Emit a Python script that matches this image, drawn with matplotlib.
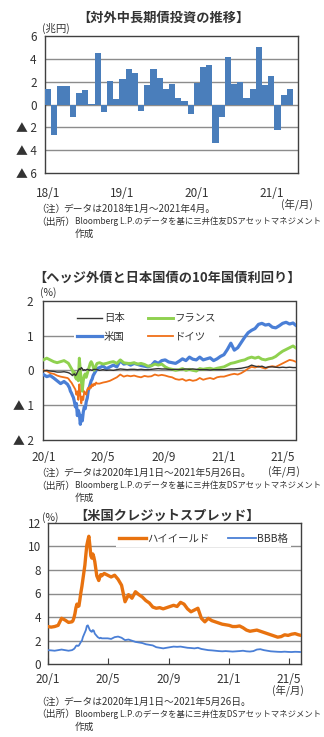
import matplotlib
matplotlib.use('Agg')
import matplotlib.pyplot as plt
import pandas as pd
import numpy as np

plt.rcParams['font.family'] = ['Noto Sans CJK JP', 'DejaVu Sans']

# ---------------- data: chart 1 (monthly, 2018/1 - 2021/4, 兆円) ----------------
bar_values = [1.4, -2.7, 1.6, 1.6, -1.1, 1.0, 1.3, 0.05, 4.5, -0.7,
              2.1, 0.5, 2.2, 3.1, 2.8, -0.55, 1.7, 3.1, 2.3, 1.4,
              1.8, 0.6, 0.3, -0.85, 1.9, 3.3, 3.5, -3.4, -1.1, 4.2,
              1.8, 2.0, 0.6, 1.4, 5.0, 1.7, 2.5, -2.2, 0.8, 1.4]
bar_tick_labels = ['18/1', '19/1', '20/1', '21/1']
bar_tick_idx = [0, 12, 24, 36]
bar_ytick_labels = ['▲ 6', '▲ 4', '▲ 2', '0', '2', '4', '6']

# ---------------- dates for charts 2 & 3 ----------------
dates_early = pd.to_datetime(['2020-01-01', '2020-01-08', '2020-01-15', '2020-01-22',
                              '2020-01-29', '2020-02-05', '2020-02-12', '2020-02-19'])
dates_dense = pd.date_range('2020-02-21', '2020-04-19', freq='2D')
dates_weekly = pd.date_range('2020-04-24', '2021-05-21', freq='7D')
dates = dates_early.append(dates_dense).append(dates_weekly).append(pd.to_datetime(['2021-05-26']))

# ---------------- chart 2: hedged 10y yields (%) ----------------
japan = ([-0.02, 0.00, -0.02, -0.03, -0.05, -0.05, -0.04, -0.06] +
         [-0.07, -0.08, -0.10, -0.12, -0.15, -0.12, -0.10, -0.15, -0.12, -0.05,
          0.00, 0.05, 0.02, 0.08, 0.05, 0.00, 0.02, 0.00, 0.02, 0.03,
          0.02, 0.00, 0.02, 0.01, 0.00, 0.02, 0.03, 0.02, 0.03, 0.02] +
         [0.00, 0.02, 0.00, 0.01, 0.00, 0.02, 0.04, 0.03, 0.02, 0.03,
          0.03, 0.02, 0.03, 0.02, 0.02, 0.03, 0.04, 0.05, 0.04, 0.04,
          0.03, 0.02, 0.03, 0.02, 0.03, 0.04, 0.03, 0.04, 0.03, 0.02,
          0.02, 0.02, 0.01, 0.02, 0.02, 0.02] +
         [0.02, 0.03, 0.04, 0.04, 0.05, 0.06, 0.08, 0.10, 0.15, 0.12, 0.10,
          0.12, 0.08, 0.10, 0.10, 0.09, 0.08, 0.09, 0.08, 0.09, 0.08, 0.08])
usa = ([-0.12, -0.18, -0.15, -0.22, -0.30, -0.38, -0.32, -0.40] +
       [-0.45, -0.50, -0.60, -0.65, -0.72, -0.78, -0.90, -1.05, -0.95, -1.30,
        -1.15, -1.25, -1.55, -1.30, -1.45, -1.20, -1.05, -1.10, -0.90, -0.80,
        -0.60, -0.50, -0.40, -0.30, -0.25, -0.15, -0.10, -0.05, 0.00, 0.05] +
       [0.08, 0.12, 0.05, 0.10, 0.15, 0.10, 0.28, 0.18, 0.20, 0.15,
        0.20, 0.17, 0.14, 0.12, 0.10, 0.14, 0.25, 0.20, 0.28, 0.30,
        0.24, 0.22, 0.20, 0.26, 0.33, 0.28, 0.38, 0.32, 0.30, 0.38,
        0.30, 0.33, 0.36, 0.28, 0.33, 0.40] +
       [0.45, 0.60, 0.78, 0.58, 0.65, 0.80, 0.95, 1.08, 1.15, 1.20, 1.32,
        1.35, 1.30, 1.32, 1.24, 1.22, 1.28, 1.35, 1.38, 1.33, 1.36, 1.30])
france = ([0.30, 0.35, 0.30, 0.25, 0.22, 0.25, 0.28, 0.22] +
          [0.20, 0.15, 0.10, 0.05, 0.00, -0.10, -0.05, -0.20, -0.25, -0.10,
           -0.30, 0.35, 0.00, -0.30, -0.60, -0.30, -0.15, -0.10, -0.20, -0.10,
           0.00, 0.10, 0.20, 0.25, 0.20, 0.10, 0.00, 0.05, 0.15, 0.20] +
          [0.22, 0.18, 0.20, 0.23, 0.25, 0.20, 0.30, 0.22, 0.20, 0.20,
           0.22, 0.18, 0.20, 0.17, 0.12, 0.13, 0.18, 0.15, 0.18, 0.10,
           0.05, 0.03, 0.00, 0.02, 0.05, 0.00, 0.03, 0.00, -0.02, 0.05,
           0.03, 0.05, 0.06, 0.03, 0.06, 0.08] +
          [0.10, 0.15, 0.20, 0.22, 0.25, 0.28, 0.30, 0.35, 0.38, 0.35, 0.38,
           0.32, 0.30, 0.33, 0.35, 0.40, 0.48, 0.55, 0.60, 0.65, 0.70, 0.65])
germany = ([0.00, -0.02, -0.08, -0.10, -0.15, -0.18, -0.20, -0.22] +
           [-0.24, -0.28, -0.32, -0.35, -0.40, -0.45, -0.50, -0.55, -0.70, -0.60,
            -0.85, -0.40, -0.70, -0.95, -0.75, -0.85, -0.60, -0.65, -0.70, -0.55,
            -0.50, -0.55, -0.45, -0.50, -0.40, -0.45, -0.38, -0.42, -0.35, -0.38] +
           [-0.38, -0.35, -0.33, -0.30, -0.25, -0.20, -0.12, -0.18, -0.15, -0.17,
            -0.15, -0.18, -0.20, -0.16, -0.18, -0.17, -0.12, -0.15, -0.13, -0.15,
            -0.18, -0.20, -0.25, -0.27, -0.25, -0.30, -0.27, -0.30, -0.28, -0.22,
            -0.27, -0.24, -0.22, -0.25, -0.20, -0.18] +
           [-0.18, -0.15, -0.12, -0.10, -0.12, -0.08, -0.02, 0.05, 0.10, 0.08, 0.12,
            0.08, 0.05, 0.10, 0.12, 0.10, 0.15, 0.20, 0.25, 0.30, 0.28, 0.25])

# ---------------- chart 3: US credit spreads (%) ----------------
high_yield = ([3.20, 3.15, 3.20, 3.30, 3.90, 3.75, 3.55, 3.60] +
              [3.70, 3.95, 4.30, 4.80, 5.10, 4.90, 4.95, 5.50, 6.10, 6.60,
               7.20, 7.80, 8.40, 9.30, 10.10, 10.50, 10.85, 10.10, 9.20, 9.00,
               9.35, 9.10, 8.70, 8.10, 7.50, 7.30, 7.10, 7.40, 7.60, 7.50] +
              [7.70, 7.55, 7.40, 7.55, 7.20, 6.70, 5.30, 5.90, 5.60, 6.15,
               5.90, 5.70, 5.40, 5.20, 4.85, 4.75, 4.80, 4.70, 4.80, 4.90,
               5.00, 4.90, 5.25, 5.10, 4.70, 4.45, 4.60, 4.75, 3.90, 3.60,
               3.90, 3.70, 3.60, 3.50, 3.40, 3.35] +
              [3.30, 3.20, 3.20, 3.25, 3.10, 2.90, 2.80, 2.85, 2.90, 2.80, 2.70,
               2.60, 2.50, 2.40, 2.30, 2.35, 2.50, 2.45, 2.55, 2.60, 2.50, 2.45])
bbb = ([1.20, 1.18, 1.15, 1.20, 1.25, 1.20, 1.15, 1.20] +
       [1.25, 1.30, 1.40, 1.55, 1.60, 1.55, 1.60, 1.75, 1.90, 2.00,
        2.30, 2.50, 2.70, 2.90, 3.25, 3.30, 3.10, 2.90, 2.80, 2.75,
        2.90, 2.85, 2.60, 2.50, 2.40, 2.30, 2.25, 2.20, 2.25, 2.20] +
       [2.20, 2.20, 2.15, 2.30, 2.35, 2.25, 2.05, 2.10, 2.00, 1.90,
        1.85, 1.80, 1.70, 1.65, 1.60, 1.45, 1.40, 1.35, 1.40, 1.45,
        1.50, 1.48, 1.50, 1.45, 1.40, 1.38, 1.35, 1.40, 1.30, 1.25,
        1.20, 1.18, 1.15, 1.12, 1.10, 1.12] +
       [1.10, 1.08, 1.10, 1.12, 1.15, 1.10, 1.08, 1.12, 1.25, 1.28, 1.20,
        1.15, 1.10, 1.08, 1.06, 1.05, 1.07, 1.05, 1.04, 1.06, 1.05, 1.04])

ts_tick_dates = pd.to_datetime(['2020-01-01', '2020-05-01', '2020-09-01', '2021-01-01', '2021-05-01'])
ts_tick_labels = ['20/1', '20/5', '20/9', '21/1', '21/5']

for s in (japan, usa, france, germany, high_yield, bbb):
    assert len(s) == len(dates), (len(s), len(dates))

# ---------------- layout helpers ----------------
W, H = 324, 737
fig = plt.figure(figsize=(W / 100, H / 100), dpi=100)
fig.patch.set_facecolor('white')
TXT = '#333333'
GRID = '#8c8c8c'
FRAME = '#404040'
renderer = fig.canvas.get_renderer()


def ax_rect(l, t, r, b):
    return [l / W, 1 - b / H, (r - l) / W, (b - t) / H]


def ftext(x, y, s, **kw):
    kw.setdefault('color', TXT)
    kw.setdefault('va', 'center')
    return fig.text(x / W, 1 - y / H, s, **kw)


def fit_text(x0, x1, y, s, size=7.0):
    t = ftext(x0, y, s, fontsize=size, ha='left')
    w = t.get_window_extent(renderer=renderer).width
    if w > (x1 - x0):
        t.set_fontsize(size * (x1 - x0) / w)
    return t


def style_frame(ax):
    for sp in ax.spines.values():
        sp.set_color(FRAME)
        sp.set_linewidth(1.0)


def notes(y0, note):
    ftext(36, y0, '（注）', fontsize=7, ha='left')
    ftext(63, y0, note, fontsize=7, ha='left')
    ftext(36, y0 + 12.5, '（出所）', fontsize=7, ha='left')
    fit_text(75, 321, y0 + 12.5, 'Bloomberg L.P.のデータを基に三井住友DSアセットマネジメント')
    ftext(75, y0 + 24.5, '作成', fontsize=7, ha='left')


# ---------------- chart 1 ----------------
ax1 = fig.add_axes(ax_rect(45, 36, 298, 173))
x_idx = np.arange(len(bar_values))
ax1.bar(x_idx, bar_values, width=1.0, align='edge', color='#4a7ebb', zorder=3, linewidth=0)
ax1.set_xlim(0, 40.8)
ax1.set_ylim(-6, 6)
ax1.set_yticks([-6, -4, -2, 0, 2, 4, 6])
ax1.set_yticklabels(bar_ytick_labels)
ax1.set_xticks([i + 0.5 for i in bar_tick_idx])
ax1.set_xticklabels(bar_tick_labels)
for yv in [-4, -2, 0, 2, 4]:
    ax1.axhline(yv, color=GRID, lw=1.0, zorder=1)
ax1.tick_params(axis='y', length=0, labelsize=8.5, colors=TXT, pad=6)
ax1.tick_params(axis='x', length=0, labelsize=8.5, colors=TXT, pad=10)
style_frame(ax1)
ftext(163, 18, '【対外中長期債投資の推移】', fontsize=9.5, fontweight='bold', ha='center')
ftext(42, 28, '(兆円)', fontsize=7.5, ha='left')
ftext(297, 204, '(年/月)', fontsize=7.5, ha='center')
notes(209, 'データは2018年1月～2021年4月。')

# ---------------- chart 2 ----------------
ax2 = fig.add_axes(ax_rect(43.3, 300.7, 295.5, 440))
ax2.plot(dates, usa, color='#4a7fd6', lw=2.3, label='米国', zorder=3)
ax2.plot(dates, france, color='#8fd14f', lw=2.1, label='フランス', zorder=4)
ax2.plot(dates, germany, color='#f07018', lw=1.3, label='ドイツ', zorder=5)
ax2.plot(dates, japan, color='#333333', lw=1.0, label='日本', zorder=6)
ax2.set_xlim(dates[0], dates[-1])
ax2.set_ylim(-2, 2)
ax2.set_yticks([-2, -1, 0, 1, 2])
ax2.set_yticklabels(['▲ 2', '▲ 1', '0', '1', '2'])
ax2.set_xticks(ts_tick_dates)
ax2.set_xticklabels(ts_tick_labels)
for yv in [-1, 0, 1]:
    ax2.axhline(yv, color=GRID, lw=1.0, zorder=1)
ax2.tick_params(axis='y', length=0, labelsize=8.5, colors=TXT, pad=7)
ax2.tick_params(axis='x', length=0, labelsize=8.5, colors=TXT, pad=8)
style_frame(ax2)
h, l = ax2.get_legend_handles_labels()
order = [3, 0, 1, 2]  # 日本, 米国, フランス, ドイツ
leg2 = ax2.legend([h[i] for i in order], [l[i] for i in order], ncol=2,
                  loc='upper left', bbox_to_anchor=(0.1, 0.97), fontsize=7.5,
                  frameon=True, facecolor='white', edgecolor='none', framealpha=1,
                  handlelength=2.4, handletextpad=0.2, columnspacing=2.2,
                  labelspacing=0.8, borderpad=0.3, fancybox=False)
leg2.set_zorder(10)
for t in leg2.get_texts():
    t.set_color(TXT)
ftext(167, 278, '【ヘッジ外債と日本国債の10年国債利回り】', fontsize=9.5, fontweight='bold', ha='center')
ftext(40, 293, '(%)', fontsize=7.5, ha='left')
ftext(284, 471, '(年/月)', fontsize=7.5, ha='center')
notes(473, 'データは2020年1月1日～2021年5月26日。')

# ---------------- chart 3 ----------------
ax3 = fig.add_axes(ax_rect(47.7, 522.7, 301, 664.3))
ax3.plot(dates, high_yield, color='#e8720f', lw=2.4, label='ハイイールド', zorder=4)
ax3.plot(dates, bbb, color='#4a7fd6', lw=1.3, label='BBB格', zorder=3)
ax3.set_xlim(dates[0], dates[-1])
ax3.set_ylim(0, 12)
ax3.set_yticks([0, 2, 4, 6, 8, 10, 12])
for yv in [2, 4, 6, 8, 10]:
    ax3.axhline(yv, color=GRID, lw=1.0, zorder=1)
ax3.set_xticks(ts_tick_dates)
ax3.set_xticklabels(ts_tick_labels)
ax3.tick_params(axis='x', direction='in', length=4, color=FRAME, labelsize=8.5, labelcolor=TXT, pad=6)
ax3.tick_params(axis='y', length=0, labelsize=8.5, colors=TXT, pad=5)
style_frame(ax3)
leg3 = ax3.legend(ncol=2, loc='upper left', bbox_to_anchor=(0.25, 0.98), fontsize=7.5,
                  frameon=True, facecolor='white', edgecolor='none', framealpha=1,
                  handlelength=2.6, handletextpad=0.1, columnspacing=1.8,
                  borderpad=0.3, fancybox=False)
for t in leg3.get_texts():
    t.set_color(TXT)
ftext(167, 516, '【米国クレジットスプレッド】', fontsize=9.5, fontweight='bold', ha='center')
ftext(42, 518, '(%)', fontsize=7.5, ha='left')
ftext(288, 690, '(年/月)', fontsize=7.5, ha='center')
notes(702, 'データは2020年1月1日～2021年5月26日。')

fig.savefig('out.png', dpi=100, facecolor='white')
